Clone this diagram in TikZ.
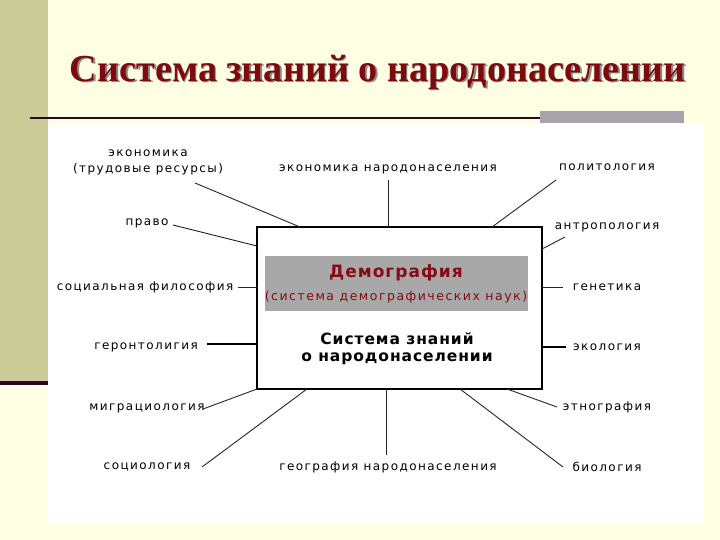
\documentclass[tikz,border=0pt]{standalone}
\usepackage{fontspec}
\setmainfont{DejaVu Sans}
\newfontfamily\titlefont{Liberation Serif}
\newfontfamily\lblfont[LetterSpace=12]{DejaVu Sans}
\newfontfamily\boxfont[LetterSpace=6]{DejaVu Sans}
\definecolor{cream}{RGB}{255,255,227}
\definecolor{khaki}{RGB}{204,204,153}
\definecolor{darkbar}{RGB}{40,8,36}
\definecolor{titlered}{RGB}{125,10,15}
\definecolor{graybar}{RGB}{168,163,170}
\definecolor{bandgray}{RGB}{168,168,168}
\definecolor{demored}{RGB}{135,10,20}
\begin{document}
\begin{tikzpicture}[x=1pt,y=-1pt,
  lbl/.style={font=\lblfont\fontsize{12}{16}\selectfont, inner sep=1pt, align=center, text=black},
  conn/.style={line width=0.9pt, draw=black!85},
  thickconn/.style={line width=1.6pt, draw=black}]
\useasboundingbox (0,0) rectangle (720,540);
\fill[cream] (0,0) rectangle (720,540);
\fill[khaki] (0,0) rectangle (48,381);
\fill[darkbar] (0,381) rectangle (48,385);
\fill[white] (48,123) rectangle (704,523);
\draw[darkbar, line width=2pt] (30,118) -- (540,118);
\fill[graybar] (540,111) rectangle (684,123);
% title
\node[text=black!45, font=\titlefont\bfseries\fontsize{38.2}{42}\selectfont, inner sep=0] (titleshadow) at (379.5,73.5) {Система знаний о народонаселении};
\node[text=titlered, font=\titlefont\bfseries\fontsize{38.2}{42}\selectfont, inner sep=0] (title) at (378,72) {Система знаний о народонаселении};
% central box
\node[draw=black, line width=1.6pt, fill=white, minimum width=285, minimum height=162, inner sep=0] (box) at (399.5,308) {};
\node[fill=bandgray, minimum width=263, minimum height=55, inner sep=0] (band) at (396.5,283.5) {};
\node[text=demored, font=\boxfont\bfseries\fontsize{17}{20}\selectfont, inner sep=0] (demo) at (396,273) {Демография};
\node[text=demored, font=\lblfont\fontsize{12.5}{16}\selectfont, inner sep=0] (demosub) at (396,297) {(система демографических наук)};
\node[text=black, font=\boxfont\bfseries\fontsize{15.5}{17}\selectfont, align=center, inner sep=0] (sys) at (397,349) {Система знаний\\о народонаселении};
% labels
\node[lbl] (econ1) at (148,162) {экономика\\(трудовые ресурсы)};
\node[lbl] (econN) at (388,169) {экономика народонаселения};
\node[lbl] (polit) at (607,167) {политология};
\node[lbl] (pravo) at (147,223) {право};
\node[lbl] (antro) at (607,227) {антропология};
\node[lbl] (socph) at (145,287) {социальная философия};
\node[lbl] (genet) at (607,287) {генетика};
\node[lbl] (geront) at (146,347) {геронтолигия};
\node[lbl] (ecol) at (607,347) {экология};
\node[lbl] (migr) at (147,408) {миграциология};
\node[lbl] (ethno) at (607,407) {этнография};
\node[lbl] (socio) at (147,467) {социология};
\node[lbl] (geog) at (388,467) {география народонаселения};
\node[lbl] (bio) at (607,467) {биология};
% connector end points
\coordinate (econ1-a) at (195,183); \coordinate (econ1-b) at (300,227);
\coordinate (econN-a) at (388,180); \coordinate (econN-b) at (388,227);
\coordinate (polit-a) at (556,180); \coordinate (polit-b) at (492,227);
\coordinate (pravo-a) at (173,225); \coordinate (pravo-b) at (257,246);
\coordinate (antro-a) at (565,237); \coordinate (antro-b) at (542,249);
\coordinate (socph-a) at (238,287); \coordinate (socph-b) at (257,287);
\coordinate (genet-a) at (563,287); \coordinate (genet-b) at (542,287);
\coordinate (geront-a) at (207,344); \coordinate (geront-b) at (257,344);
\coordinate (ecol-a) at (566,347); \coordinate (ecol-b) at (542,347);
\coordinate (migr-a) at (203,409); \coordinate (migr-b) at (257,389);
\coordinate (socio-a) at (202,467); \coordinate (socio-b) at (307,389);
\coordinate (geog-a) at (386,455); \coordinate (geog-b) at (386,389);
\coordinate (ethno-a) at (557,407); \coordinate (ethno-b) at (507,389);
\coordinate (bio-a) at (563,467); \coordinate (bio-b) at (460,389);
\draw[conn] (econ1-a) -- (econ1-b);
\draw[conn] (econN-a) -- (econN-b);
\draw[conn] (polit-a) -- (polit-b);
\draw[conn] (pravo-a) -- (pravo-b);
\draw[conn] (antro-a) -- (antro-b);
\draw[conn] (socph-a) -- (socph-b);
\draw[conn] (genet-a) -- (genet-b);
\draw[thickconn] (geront-a) -- (geront-b);
\draw[thickconn] (ecol-a) -- (ecol-b);
\draw[conn] (migr-a) -- (migr-b);
\draw[conn] (socio-a) -- (socio-b);
\draw[conn] (geog-a) -- (geog-b);
\draw[conn] (ethno-a) -- (ethno-b);
\draw[conn] (bio-a) -- (bio-b);
\end{tikzpicture}
\end{document}
